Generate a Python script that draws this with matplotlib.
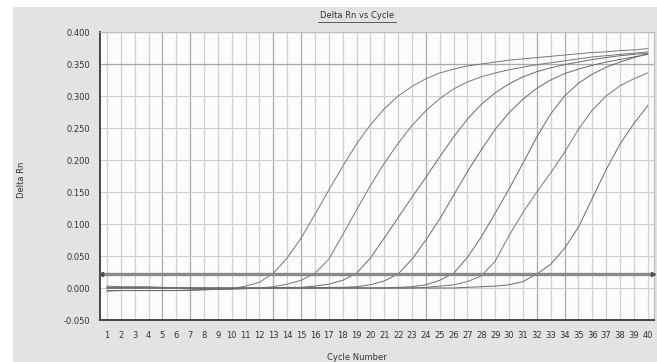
import matplotlib
matplotlib.use("Agg")
import matplotlib.pyplot as plt
from matplotlib.patches import Rectangle
from matplotlib.lines import Line2D

cycles = list(range(1, 41))

curve_a = [0.003, 0.002, 0.002, 0.002, 0.001, 0.000, -0.001, -0.002, -0.002, -0.001,
           0.003, 0.009, 0.023, 0.047, 0.078, 0.115, 0.153, 0.190, 0.225, 0.255,
           0.280, 0.300, 0.315, 0.327, 0.336, 0.342, 0.347, 0.350, 0.353, 0.356,
           0.358, 0.360, 0.362, 0.364, 0.366, 0.368, 0.369, 0.371, 0.372, 0.374]
curve_b = [-0.005, -0.004, -0.004, -0.004, -0.004, -0.004, -0.004, -0.003, -0.002, -0.002,
           -0.001, 0.000, 0.002, 0.006, 0.012, 0.023, 0.045, 0.083, 0.122, 0.160,
           0.195, 0.226, 0.254, 0.277, 0.296, 0.311, 0.322, 0.330, 0.336, 0.341,
           0.345, 0.349, 0.352, 0.355, 0.358, 0.361, 0.363, 0.365, 0.367, 0.369]
curve_c = [-0.004, -0.004, -0.004, -0.004, -0.004, -0.004, -0.003, -0.002, -0.002, -0.001,
           -0.001, 0.000, 0.000, 0.001, 0.001, 0.003, 0.006, 0.012, 0.023, 0.047,
           0.078, 0.110, 0.142, 0.173, 0.205, 0.236, 0.264, 0.287, 0.305, 0.319,
           0.330, 0.338, 0.344, 0.349, 0.353, 0.357, 0.360, 0.363, 0.365, 0.367]
curve_d = [0.001, 0.001, 0.001, 0.001, 0.000, 0.000, 0.000, -0.001, -0.001, -0.001,
           0.000, 0.000, 0.000, 0.000, 0.000, 0.000, 0.001, 0.001, 0.002, 0.005,
           0.011, 0.022, 0.045, 0.075, 0.108, 0.145, 0.182, 0.216, 0.248, 0.274,
           0.295, 0.312, 0.325, 0.335, 0.342, 0.348, 0.353, 0.357, 0.361, 0.365]
curve_e = [0.000, 0.000, 0.000, 0.000, 0.000, 0.000, 0.000, 0.000, 0.000, 0.000,
           0.000, 0.000, 0.000, 0.000, 0.000, 0.000, 0.000, 0.000, 0.000, 0.000,
           0.000, 0.001, 0.002, 0.005, 0.012, 0.023, 0.048, 0.080, 0.117, 0.155,
           0.195, 0.236, 0.272, 0.300, 0.320, 0.334, 0.345, 0.353, 0.360, 0.366]
curve_f = [0.000, 0.000, 0.000, 0.000, 0.000, 0.000, 0.000, 0.000, 0.000, 0.000,
           0.000, 0.000, 0.000, 0.000, 0.000, 0.000, 0.000, 0.000, 0.000, 0.000,
           0.000, 0.000, 0.000, 0.001, 0.003, 0.005, 0.010, 0.019, 0.042, 0.082,
           0.118, 0.150, 0.180, 0.212, 0.248, 0.278, 0.300, 0.316, 0.327, 0.336]
curve_g = [0.000, 0.000, 0.000, 0.000, 0.000, 0.000, 0.000, 0.000, 0.000, 0.000,
           0.000, 0.000, 0.000, 0.000, 0.000, 0.000, 0.000, 0.000, 0.000, 0.000,
           0.000, 0.000, 0.000, 0.000, 0.000, 0.000, 0.001, 0.002, 0.003, 0.005,
           0.010, 0.022, 0.037, 0.062, 0.095, 0.140, 0.185, 0.225, 0.257, 0.285]

threshold = 0.022
y_ticks = [-0.05, 0.0, 0.05, 0.10, 0.15, 0.20, 0.25, 0.30, 0.35, 0.40]
y_tick_labels = ["-0.050", "0.000", "0.050", "0.100", "0.150", "0.200",
                 "0.250", "0.300", "0.350", "0.400"]
x_tick_labels = [str(c) for c in cycles]
dark_x_grid = [5, 7, 13, 15, 24, 32, 34]
dark_y_grid = [0.35]

W, H = 657, 362
fig = plt.figure(figsize=(W / 100, H / 100), dpi=100)
fig.patch.set_facecolor("white")
bg = Rectangle((13 / W, 0), 1 - 13 / W, (H - 7) / H,
               transform=fig.transFigure, facecolor="#e3e3e3",
               edgecolor="none", zorder=-10)
fig.add_artist(bg)

ax = fig.add_axes([100 / W, (H - 320) / H, (654 - 100) / W, (320 - 32) / H])
ax.set_zorder(1)
ax.set_facecolor("#fcfcfc")
ax.set_xlim(0.5, 40.45)
ax.set_ylim(-0.05, 0.40)

# grid
for c in cycles:
    col = "#a8a8a8" if c in dark_x_grid else "#d0d0d0"
    ax.axvline(c, color=col, lw=0.9, zorder=1)
for y in y_ticks:
    col = "#a8a8a8" if y in dark_y_grid else "#d0d0d0"
    ax.axhline(y, color=col, lw=0.9, zorder=1)

curves = [curve_a, curve_b, curve_c, curve_d, curve_e, curve_f, curve_g]
colors = ["#777777", "#777777", "#6a6a6a", "#6a6a6a", "#6a6a6a", "#777777", "#6a6a6a"]
for vals, col in zip(curves, colors):
    ax.plot(cycles, vals, color=col, lw=0.7, zorder=3)

# threshold
ax.axhline(threshold, color="#8a8a8a", lw=2.4, zorder=4)
ax.plot([0.55], [threshold], marker="<", color="#505050", ms=3, zorder=5, clip_on=False)
ax.plot([40.4], [threshold], marker=">", color="#505050", ms=3, zorder=5, clip_on=False)

ax.set_yticks(y_ticks)
ax.set_yticklabels(y_tick_labels)
ax.set_xticks(cycles)
ax.set_xticklabels(x_tick_labels)
ax.tick_params(axis="both", length=0, labelsize=6, colors="#333333")
ax.tick_params(axis="y", pad=7)
ax.tick_params(axis="x", pad=8)

for s in ["top", "right"]:
    ax.spines[s].set_color("#bdbdbd")
    ax.spines[s].set_linewidth(0.9)
for s in ["left", "bottom"]:
    ax.spines[s].set_color("#444444")
    ax.spines[s].set_linewidth(1.4)

fig.text(357 / W, 1 - 16 / H, "Delta Rn vs Cycle", ha="center", va="center",
         fontsize=6, color="#333333")
fig.add_artist(Line2D([318 / W, 396 / W], [1 - 21.5 / H, 1 - 21.5 / H],
                      transform=fig.transFigure, color="#444444", lw=0.6))
fig.text(357 / W, 1 - 357 / H, "Cycle Number", ha="center", va="center",
         fontsize=6, color="#333333")
fig.text(22 / W, 1 - 180 / H, "Delta Rn", ha="center", va="center",
         fontsize=6, color="#333333", rotation=90)

fig.savefig("out.png", dpi=100)
